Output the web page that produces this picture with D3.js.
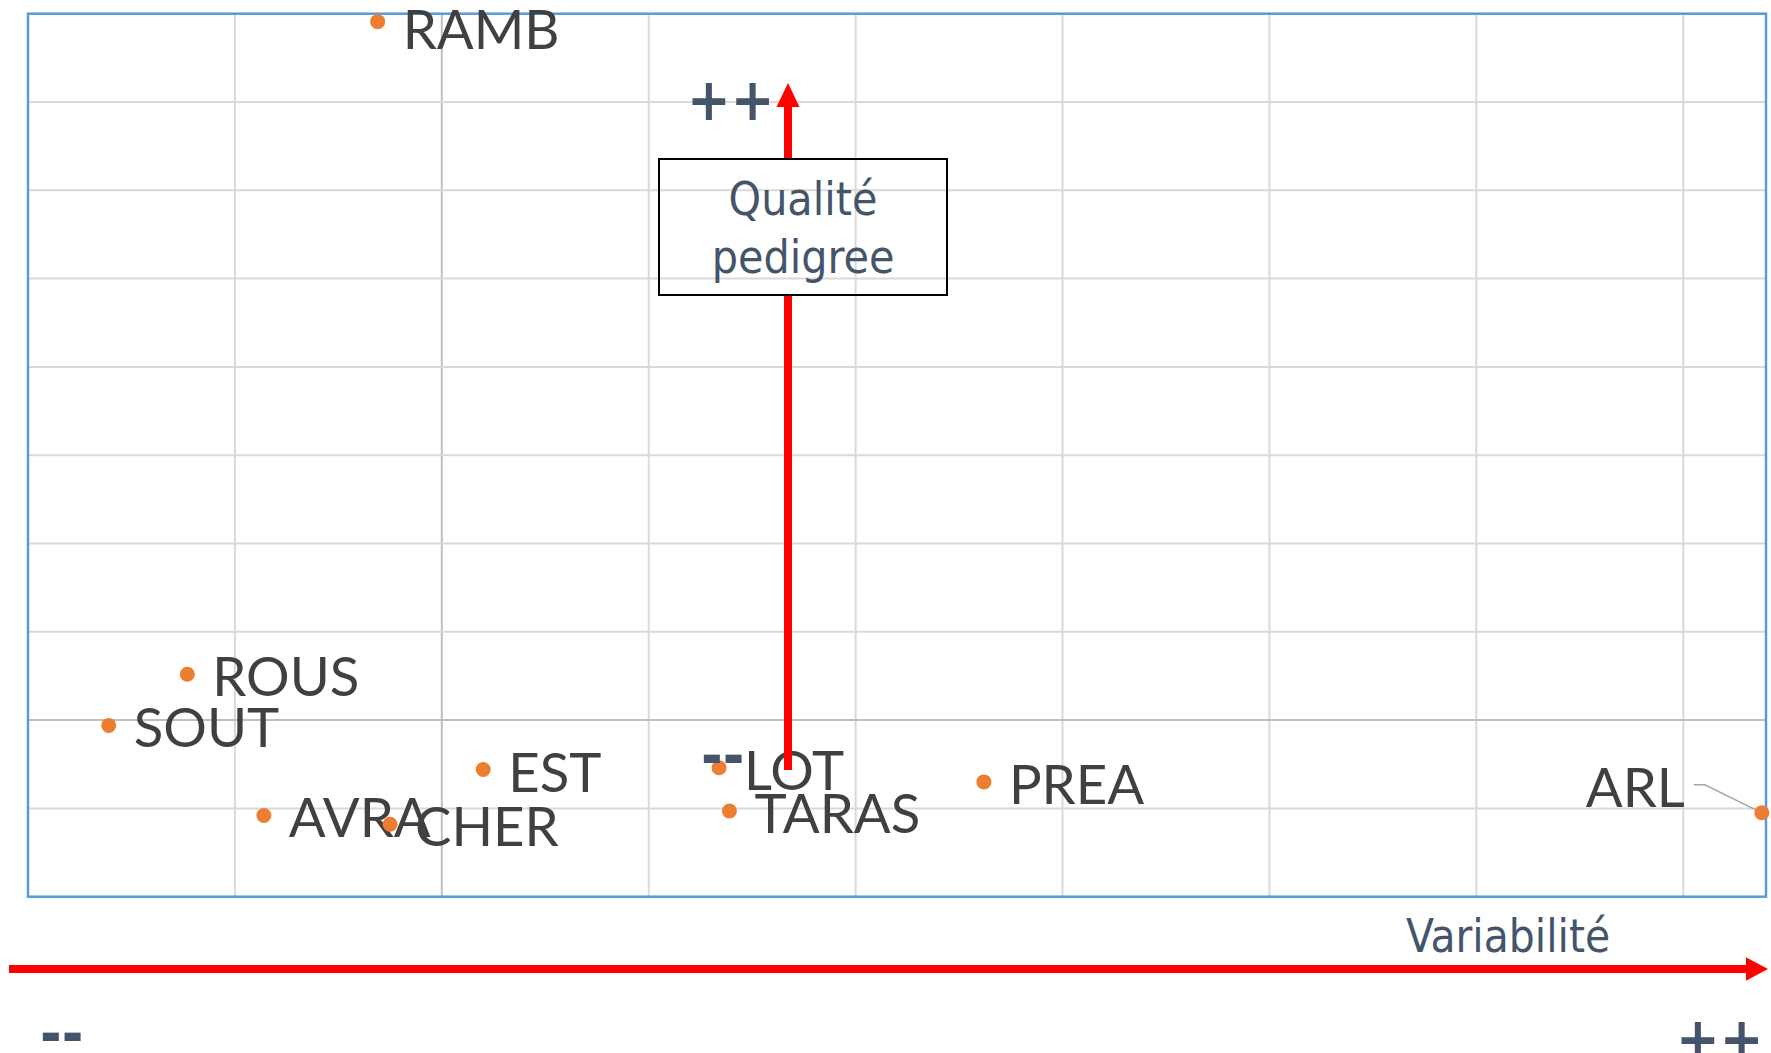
<!DOCTYPE html>
<html>
<head>
<meta charset="utf-8">
<script src="https://cdn.jsdelivr.net/npm/d3@7"></script>
<style>
  body { margin: 0; background: #ffffff; }
  svg { display: block; }
</style>
</head>
<body>
<div id="graph"></div>
<script>
// breeds and their position (variabilité, qualité pedigree)
var names = ["RAMB", "ROUS", "SOUT", "EST", "AVRA", "CHER", "LOT", "TARAS", "PREA", "ARL"];
var xValues = [1.69, 0.77, 0.39, 2.20, 1.14, 1.75, 3.34, 3.39, 4.62, 8.38];
var yValues = [9.91, 2.52, 1.94, 1.44, 0.92, 0.82, 1.46, 0.97, 1.30, 0.95];

var xTicks = [1, 2, 3, 4, 5, 6, 7, 8];
var yTicks = [1, 2, 3, 4, 5, 6, 7, 8, 9];
var xDomain = [0, 8.4];
var yDomain = [0, 10];
var axisCross = 2;

var xTitle = "Variabilité";
var yTitle = ["Qualité", "pedigree"];

var width = 1771;
var height = 1053;
var plot = {left: 28, top: 13.7, right: 1766, bottom: 896.7};

var labelFont = "Lato, 'Open Sans', sans-serif";
var noteFont = "Tahoma, 'DejaVu Sans Condensed', 'DejaVu Sans', sans-serif";
var noteColor = "#44546A";

var svg = d3.select("#graph").append("svg")
    .attr("width", width)
    .attr("height", height);

var x = d3.scaleLinear().domain(xDomain).range([plot.left, plot.right]);
var y = d3.scaleLinear().domain(yDomain).range([plot.bottom, plot.top]);

var data = names.map(function(n, i) {
    return {name: n, x: xValues[i], y: yValues[i]};
});

// grid
var grid = svg.append("g").attr("class", "grid");
grid.selectAll(".vline")
    .data(xTicks)
    .enter()
    .append("line")
    .attr("x1", function(d) { return x(d); })
    .attr("x2", function(d) { return x(d); })
    .attr("y1", plot.top)
    .attr("y2", plot.bottom)
    .attr("stroke", function(d) { return d == axisCross ? "#BFBFBF" : "#D9D9D9"; })
    .attr("stroke-width", 2);

grid.selectAll(".hline")
    .data(yTicks)
    .enter()
    .append("line")
    .attr("y1", function(d) { return y(d); })
    .attr("y2", function(d) { return y(d); })
    .attr("x1", plot.left)
    .attr("x2", plot.right)
    .attr("stroke", function(d) { return d == axisCross ? "#BFBFBF" : "#D9D9D9"; })
    .attr("stroke-width", 2);

svg.append("rect")
    .attr("x", plot.left)
    .attr("y", plot.top)
    .attr("width", plot.right - plot.left)
    .attr("height", plot.bottom - plot.top)
    .attr("fill", "none")
    .attr("stroke", "#5B9BD5")
    .attr("stroke-width", 2.5);

// labels
var labelLayer = svg.append("g").attr("class", "labels");
var labelSize = 54.5;
var capH = 40;

data.forEach(function(d) {
    var px = x(d.x), py = y(d.y);
    var t = labelLayer.append("text")
        .attr("font-family", labelFont)
        .attr("font-size", labelSize)
        .attr("fill", "#404040")
        .text(d.name);
    var w = t.node().getComputedTextLength();
    var cy = Math.max(py + 2, 9 + capH / 2);
    if (px + 25 + w > plot.right) {
        // no room: put it on the left, with a leader line
        var ex = px - 77, ey = py - 26;
        t.attr("x", ex).attr("y", ey + capH / 2).attr("text-anchor", "end");
        labelLayer.append("polyline")
            .attr("points", [[ex + 9, ey - 2], [ex + 20, ey - 2], [px, py]].map(function(p) { return p.join(","); }).join(" "))
            .attr("fill", "none")
            .attr("stroke", "#A6A6A6")
            .attr("stroke-width", 1.5);
    } else {
        t.attr("x", px + 25).attr("y", cy + capH / 2);
    }
});

// points
svg.append("g").attr("class", "points")
    .selectAll("circle")
    .data(data)
    .enter()
    .append("circle")
    .attr("cx", function(d) { return x(d.x); })
    .attr("cy", function(d) { return y(d.y); })
    .attr("r", 7.5)
    .attr("fill", "#ED7D31");

// y title box
var box = {x: 659, y: 159, w: 288, h: 136};

// arrows (the vertical one is hidden behind the title box)
var red = "#FF0000";
var vx = 788;
svg.append("line")
    .attr("x1", vx).attr("x2", vx)
    .attr("y1", 770).attr("y2", box.y + box.h)
    .attr("stroke", red).attr("stroke-width", 8);
svg.append("line")
    .attr("x1", vx).attr("x2", vx)
    .attr("y1", box.y).attr("y2", 106)
    .attr("stroke", red).attr("stroke-width", 8);
svg.append("path")
    .attr("d", "M" + vx + ",83 L" + (vx + 11.5) + ",107 L" + (vx - 11.5) + ",107 Z")
    .attr("fill", red);

var hy = 969;
svg.append("line")
    .attr("x1", 9).attr("x2", 1747)
    .attr("y1", hy).attr("y2", hy)
    .attr("stroke", red).attr("stroke-width", 8);
svg.append("path")
    .attr("d", "M1768," + hy + " L1746," + (hy - 11.7) + " L1746," + (hy + 11.7) + " Z")
    .attr("fill", red);

svg.append("rect")
    .attr("x", box.x).attr("y", box.y)
    .attr("width", box.w).attr("height", box.h)
    .attr("fill", "none")
    .attr("stroke", "#000000")
    .attr("stroke-width", 2);

svg.selectAll(".ytitle")
    .data(yTitle)
    .enter()
    .append("text")
    .attr("class", "ytitle")
    .attr("x", box.x + box.w / 2)
    .attr("y", function(d, i) { return 215 + i * 58; })
    .attr("text-anchor", "middle")
    .attr("font-family", noteFont)
    .attr("font-size", 46)
    .attr("fill", noteColor)
    .text(function(d) { return d; });

svg.append("text")
    .attr("x", 1406)
    .attr("y", 951.7)
    .attr("font-family", noteFont)
    .attr("font-size", 45.5)
    .attr("fill", noteColor)
    .text(xTitle);

// ++ / -- marks
var marks = [
    {text: "++", x: 687, y: 120},
    {text: "--", x: 701, y: 776},
    {text: "--", x: 40, y: 1054},
    {text: "++", x: 1676, y: 1059}
];
svg.selectAll(".mark")
    .data(marks)
    .enter()
    .append("text")
    .attr("class", "mark")
    .attr("x", function(d) { return d.x; })
    .attr("y", function(d) { return d.y; })
    .attr("font-family", noteFont)
    .attr("font-weight", "bold")
    .attr("font-size", 58)
    .attr("fill", noteColor)
    .text(function(d) { return d.text; });
</script>
</body>
</html>
